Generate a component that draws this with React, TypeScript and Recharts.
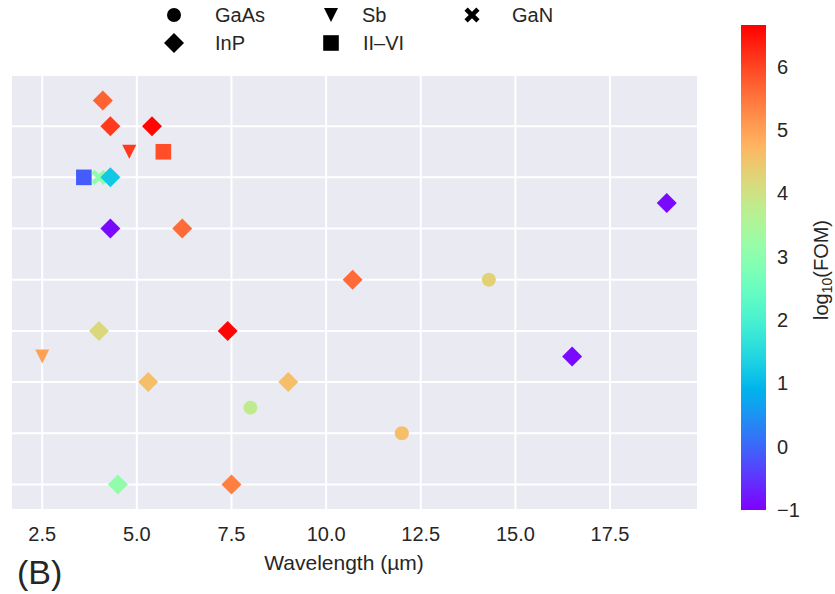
import React from "react";
import { ScatterChart, Scatter, XAxis, YAxis, CartesianGrid } from "recharts";

const FONT = '"Liberation Sans", Arial, Helvetica, sans-serif';
const TEXT = "#262626";

// Material groups, in drawing order (later groups sit on top)
const materialNames = ["GaAs", "Sb", "II–VI", "GaN", "InP"];

// One entry per device
const pointMaterial = [
  "GaAs", "GaAs", "GaAs",
  "Sb", "Sb",
  "II–VI", "II–VI",
  "GaN",
  "InP", "InP", "InP", "InP", "InP", "InP", "InP", "InP",
  "InP", "InP", "InP", "InP", "InP", "InP", "InP",
];
const wavelengthUm = [
  14.3, 8.0, 12.0,
  4.8, 2.5,
  5.7, 3.6,
  4.0,
  4.1, 4.3, 5.4, 4.3, 19.0, 4.3, 6.2, 10.7,
  4.0, 7.4, 16.5, 5.3, 9.0, 4.5, 7.5,
];
const rowPosition = [
  4, 1.5, 1,
  6.5, 2.5,
  6.5, 6,
  6,
  7.5, 7, 7, 6, 5.5, 5, 5, 4,
  3, 3, 2.5, 2, 2, 0, 0,
];
const log10Fom = [
  4.3, 3.8, 4.6,
  6.1, 5.0,
  5.9, -0.1,
  3.0,
  5.7, 6.1, 6.6, 1.2, -0.9, -0.9, 5.6, 5.6,
  4.2, 6.6, -0.9, 4.6, 4.6, 3.1, 5.4,
];

const xTicks = [2.5, 5, 7.5, 10, 12.5, 15, 17.5];
const yTicks = [0, 1, 2, 3, 4, 5, 6, 7];
const colorTicks = [-1, 0, 1, 2, 3, 4, 5, 6];
const fomRange: [number, number] = [-1, 6.66];

// Legend layout: two rows, three columns
const legendEntries = [
  { name: "GaAs", x: 174, y: 15, textX: 215 },
  { name: "Sb", x: 331, y: 15, textX: 362 },
  { name: "GaN", x: 472, y: 15, textX: 512 },
  { name: "InP", x: 174, y: 43, textX: 215 },
  { name: "II–VI", x: 331, y: 43, textX: 363 },
];

// matplotlib "rainbow" colormap
function rainbow(t: number): string {
  const u = Math.min(1, Math.max(0, t));
  const clamp = (v: number) => Math.round(Math.min(1, Math.max(0, v)) * 255);
  const r = Math.abs(2 * u - 0.5);
  const g = Math.sin(Math.PI * u);
  const b = Math.cos((Math.PI * u) / 2);
  return `rgb(${clamp(r)},${clamp(g)},${clamp(b)})`;
}
const normFom = (v: number) => (v - fomRange[0]) / (fomRange[1] - fomRange[0]);

const points = wavelengthUm.map((w, i) => ({
  wavelength: w,
  position: rowPosition[i],
  fom: log10Fom[i],
  material: pointMaterial[i],
  color: rainbow(normFom(log10Fom[i])),
}));

function xPolygon(cx: number, cy: number): string {
  const a = 8.4;
  const w = 2.3;
  const plus = [
    [w, a], [w, w], [a, w], [a, -w], [w, -w], [w, -a],
    [-w, -a], [-w, -w], [-a, -w], [-a, w], [-w, w], [-w, a],
  ];
  const s = Math.SQRT1_2;
  return plus
    .map(([x, y]) => `${cx + (x - y) * s},${cy + (x + y) * s}`)
    .join(" ");
}

function MarkerShape({ kind, cx, cy, fill }: { kind: string; cx: number; cy: number; fill: string }) {
  switch (kind) {
    case "GaAs":
      return <circle cx={cx} cy={cy} r={7} fill={fill} />;
    case "Sb":
      return (
        <polygon
          points={`${cx - 7},${cy - 7} ${cx + 7},${cy - 7} ${cx},${cy + 7}`}
          fill={fill}
        />
      );
    case "II–VI":
      return <rect x={cx - 7.8} y={cy - 7.8} width={15.6} height={15.6} fill={fill} />;
    case "GaN":
      return <polygon points={xPolygon(cx, cy)} fill={fill} />;
    default:
      return (
        <polygon
          points={`${cx},${cy - 10} ${cx + 10},${cy} ${cx},${cy + 10} ${cx - 10},${cy}`}
          fill={fill}
        />
      );
  }
}

const XTick = (props: any) => {
  const { x, y, payload } = props;
  return (
    <text x={x} y={y + 31} textAnchor="middle" fontSize={20} fontFamily={FONT} fill={TEXT}>
      {Number(payload.value).toFixed(1)}
    </text>
  );
};

// The y axis carries grid rows only, no labels
const EmptyTick = () => <g />;

// Colorbar geometry
const CB = { x: 741, y: 25, w: 25, h: 485 };
const cbY = (v: number) => CB.y + CB.h * (1 - normFom(v));
const gradientStops = Array.from({ length: 41 }, (_, i) => i / 40);

export default function App() {
  return (
    <div
      style={{
        position: "absolute",
        left: 0,
        top: 0,
        width: 835,
        height: 594,
        background: "#ffffff",
        fontFamily: FONT,
      }}
    >
      <ScatterChart
        width={835}
        height={594}
        margin={{ top: 75, right: 137, bottom: 54, left: 10 }}
      >
        <CartesianGrid
          fill="#EAEAF2"
          fillOpacity={1}
          stroke="#ffffff"
          strokeWidth={2}
        />
        <XAxis
          type="number"
          dataKey="wavelength"
          domain={[1.675, 19.825]}
          ticks={xTicks}
          allowDataOverflow
          axisLine={false}
          tickLine={false}
          tickSize={0}
          tickMargin={0}
          height={30}
          tick={<XTick />}
        />
        <YAxis
          type="number"
          dataKey="position"
          domain={[-0.5, 8]}
          ticks={yTicks}
          allowDataOverflow
          axisLine={false}
          tickLine={false}
          tick={<EmptyTick />}
          width={1}
        />
        {materialNames.map((m) => (
          <Scatter
            key={m}
            name={m}
            data={points.filter((p) => p.material === m)}
            isAnimationActive={false}
            shape={(props: any) => (
              <MarkerShape kind={m} cx={props.cx} cy={props.cy} fill={props.payload.color} />
            )}
          />
        ))}
      </ScatterChart>

      <svg
        width={835}
        height={594}
        style={{ position: "absolute", left: 0, top: 0, pointerEvents: "none" }}
      >
        <defs>
          <linearGradient id="fomGradient" x1="0" y1="1" x2="0" y2="0">
            {gradientStops.map((t) => (
              <stop key={t} offset={t} stopColor={rainbow(t)} />
            ))}
          </linearGradient>
        </defs>

        {/* Legend */}
        {legendEntries.map((e) => (
          <g key={e.name}>
            <MarkerShape kind={e.name} cx={e.x} cy={e.y} fill="#000000" />
            <text x={e.textX} y={e.y + 7} fontSize={20} fontFamily={FONT} fill={TEXT}>
              {e.name}
            </text>
          </g>
        ))}

        {/* Colorbar */}
        <rect x={CB.x} y={CB.y} width={CB.w} height={CB.h} fill="url(#fomGradient)" />
        {colorTicks.map((v) => (
          <text
            key={v}
            x={777}
            y={cbY(v) + 7}
            fontSize={20}
            fontFamily={FONT}
            fill={TEXT}
          >
            {v < 0 ? `\u2212${Math.abs(v)}` : `${v}`}
          </text>
        ))}
        <text
          transform="translate(828,270) rotate(-90)"
          textAnchor="middle"
          fontSize={20}
          fontFamily={FONT}
          fill={TEXT}
        >
          log
          <tspan fontSize={14} dy={4}>10</tspan>
          <tspan dy={-4}>(FOM)</tspan>
        </text>

        {/* Axis title and panel label */}
        <text x={344} y={570} textAnchor="middle" fontSize={21} fontFamily={FONT} fill={TEXT}>
          Wavelength (µm)
        </text>
        <text x={17} y={584} fontSize={34} fontFamily={FONT} fill={TEXT}>
          (B)
        </text>
      </svg>
    </div>
  );
}
